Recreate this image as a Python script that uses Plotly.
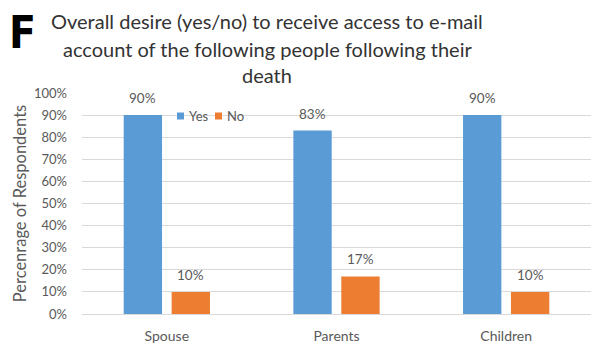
import plotly.graph_objects as go

categories = ["Spouse", "Parents", "Children"]
yes_values = [0.90, 0.83, 0.90]
no_values = [0.10, 0.17, 0.10]
yes_labels = ["90%", "83%", "90%"]
no_labels = ["10%", "17%", "10%"]
series_names = ["Yes", "No"]
tick_vals = [i / 10 for i in range(11)]
tick_text = [f"{i*10}%" for i in range(11)]
title_lines = [
    "Overall desire (yes/no) to receive access to e-mail",
    "account of the following people following their",
    "death",
]

BLUE = "#5B9BD5"
ORANGE = "#ED7D31"
GRAY = "#595959"
FONT = "Lato"

W, H = 592, 347
L, R, T, B = 82, 1, 93, 33
PW, PH = W - L - R, H - T - B


def px_to_paper(fx, fy):
    return (fx - L) / PW, (H - B - fy) / PH


fig = go.Figure()
fig.add_trace(go.Bar(name=series_names[0], x=categories, y=yes_values, marker_color=BLUE,
                     marker_line_width=0, showlegend=False))
fig.add_trace(go.Bar(name=series_names[1], x=categories, y=no_values, marker_color=ORANGE,
                     marker_line_width=0, showlegend=False))

annotations = []
shapes = []
# data labels
for i, c in enumerate(categories):
    for off, vals, labs in ((-0.5, yes_values, yes_labels), (0.5, no_values, no_labels)):
        annotations.append(dict(
            x=c, y=vals[i], xref="x", yref="y", text=labs[i], showarrow=False,
            xshift=off * 48, yshift=7, yanchor="bottom",
            font=dict(family=FONT, size=13.5, color=GRAY)))

# title lines
title_y = [21, 49, 75]
for txt, ty in zip(title_lines, title_y):
    x, y = px_to_paper(267, ty)
    annotations.append(dict(
        x=x, y=y, xref="paper", yref="paper", text=txt,
        showarrow=False, xanchor="center", yanchor="middle",
        font=dict(family=FONT, size=20, color="#333333")))
# figure letter
x, y = px_to_paper(22, 32)
annotations.append(dict(
    x=x, y=y, xref="paper", yref="paper", text="<b>F</b>",
    showarrow=False, xanchor="center", yanchor="middle",
    font=dict(family="DejaVu Sans Condensed, DejaVu Sans", size=44, color="black")))

# legend (manual, compact Excel-like)
legend_items = [(series_names[0], BLUE, 177), (series_names[1], ORANGE, 215)]
for name, col, lx in legend_items:
    x0, y0 = px_to_paper(lx, 112.5)
    x1, y1 = px_to_paper(lx + 7, 119.5)
    shapes.append(dict(type="rect", xref="paper", yref="paper", x0=x0, x1=x1,
                       y0=y1, y1=y0, fillcolor=col, line_width=0, layer="above"))
    tx, ty = px_to_paper(lx + 10, 116)
    annotations.append(dict(x=tx, y=ty, xref="paper", yref="paper", text=name,
                            showarrow=False, xanchor="left", yanchor="middle",
                            font=dict(family=FONT, size=13, color=GRAY)))

fig.update_layout(
    width=W, height=H,
    margin=dict(l=L, r=R, t=T, b=B, pad=0),
    paper_bgcolor="white", plot_bgcolor="white",
    barmode="group", bargap=0.435, bargroupgap=0.2,
    showlegend=False,
    annotations=annotations,
    shapes=shapes,
    font=dict(family=FONT, color=GRAY),
)
fig.update_xaxes(showgrid=False, showline=False, ticks="", ticklabelstandoff=12,
                 tickfont=dict(family=FONT, size=14, color=GRAY))
fig.update_yaxes(range=[0, 1], tickvals=tick_vals, ticktext=tick_text,
                 showgrid=True, gridcolor="#D9D9D9", gridwidth=1,
                 zeroline=True, zerolinecolor="#D9D9D9", zerolinewidth=1,
                 showline=False, ticks="", ticklabelstandoff=14,
                 tickfont=dict(family=FONT, size=13, color=GRAY),
                 title=dict(text="Percenrage of Respondents", standoff=3,
                            font=dict(family=FONT, size=16.5, color=GRAY)))

fig.write_html("out.html")
